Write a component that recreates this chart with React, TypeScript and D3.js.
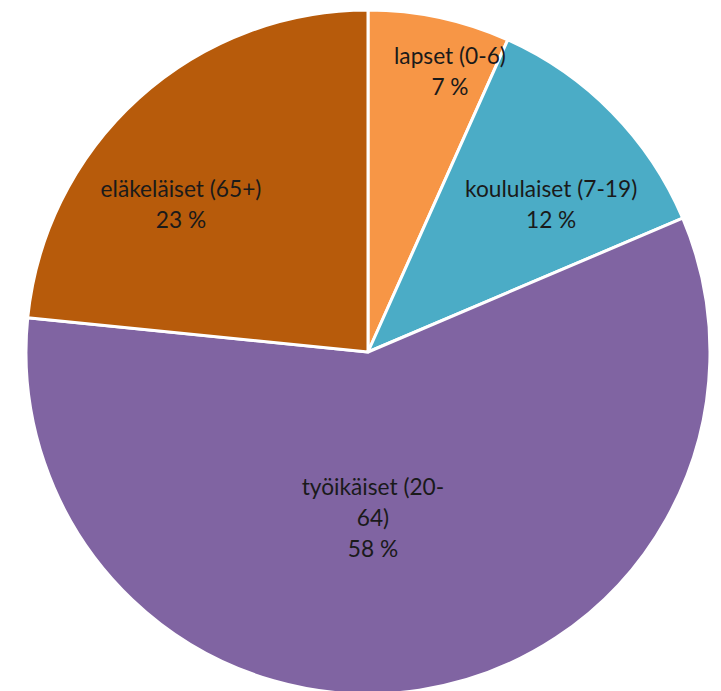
import { useEffect, useRef } from 'react';
import * as d3 from 'd3';

// age groups, clockwise from 12 o'clock
const groups = ['lapset (0-6)', 'koululaiset (7-19)', 'työikäiset (20-64)', 'eläkeläiset (65+)'];
const shares = [6.7, 11.9, 58.0, 23.4];
const percentLabels = ['7 %', '12 %', '58 %', '23 %'];
// how each label is wrapped (Excel breaks the long one)
const labelLines = [
  ['lapset (0-6)'],
  ['koululaiset (7-19)'],
  ['työikäiset (20-', '64)'],
  ['eläkeläiset (65+)'],
];
const colors = ['#F79646', '#4BACC6', '#8064A2', '#B75B0B'];

// label anchors: angle in degrees from top, distance from the centre
const labelPolar = [
  [16.3, 292],
  [51.2, 235],
  [178.3, 166],
  [308.2, 238],
];

const width = 721;
const height = 691;

export default function App() {
  const svgRef = useRef<SVGSVGElement>(null);

  useEffect(() => {
    if (!svgRef.current) return;
    const svg = d3.select(svgRef.current);
    svg.selectAll('*').remove();

    const cx = 368;
    const cy = 352;
    const radius = 342;

    const data = groups.map((g, i) => ({ name: g, value: shares[i], i }));

    const pie = d3.pie<any>()
      .value(d => d.value)
      .sort(null);

    const arc = d3.arc<any>()
      .innerRadius(0)
      .outerRadius(radius);

    const g = svg.append('g').attr('transform', `translate(${cx},${cy})`);

    g.selectAll('path')
      .data(pie(data))
      .join('path')
      .attr('d', arc)
      .attr('fill', d => colors[d.data.i])
      .attr('stroke', '#ffffff')
      .attr('stroke-width', 3)
      .attr('stroke-linejoin', 'round');

    const lineHeight = 31;
    data.forEach((d, i) => {
      const lines = [...labelLines[i], percentLabels[i]];
      const [ang, r] = labelPolar[i];
      const [px, py] = d3.pointRadial((ang * Math.PI) / 180, r);
      const top = py - ((lines.length - 1) * lineHeight) / 2;
      const text = g.append('text')
        .attr('text-anchor', 'middle')
        .attr('font-family', 'Lato, "Open Sans", sans-serif')
        .attr('font-size', 22.7)
        .attr('fill', '#1a1a1a');
      lines.forEach((line, k) => {
        text.append('tspan')
          .attr('x', px)
          .attr('y', top + k * lineHeight)
          .attr('dy', '0.35em')
          .text(line);
      });
    });
  }, []);

  return (
    <div style={{ position: 'absolute', left: 0, top: 0, width, height, background: '#ffffff' }}>
      <svg ref={svgRef} width={width} height={height} style={{ display: 'block' }} />
    </div>
  );
}
